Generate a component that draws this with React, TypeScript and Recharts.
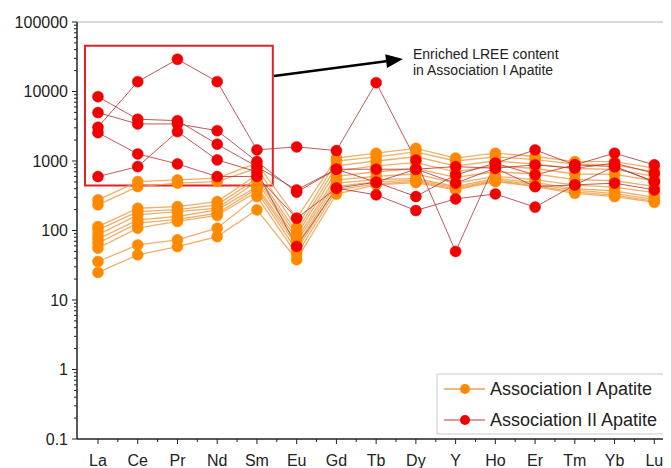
import React from 'react';
import { LineChart, Line, XAxis, YAxis, ReferenceLine, ReferenceArea } from 'recharts';

const ELEMENTS = ['La', 'Ce', 'Pr', 'Nd', 'Sm', 'Eu', 'Gd', 'Tb', 'Dy', 'Y', 'Ho', 'Er', 'Tm', 'Yb', 'Lu'];
const Y_MAJOR = [0.1, 1, 10, 100, 1000, 10000, 100000];

// Association I Apatite (orange)
const assocI_1 = [276, 505, 535, 566, 930, 150, 1100, 1295, 1520, 1100, 1295, 1160, 980, 980, 788];
const assocI_2 = [234, 428, 480, 505, 788, 110, 1000, 1150, 1350, 1000, 1150, 1050, 900, 880, 700];
const assocI_3 = [114, 209, 221, 261, 631, 95, 850, 1000, 1150, 850, 1000, 900, 780, 760, 600];
const assocI_4 = [102, 187, 200, 234, 560, 85, 720, 850, 950, 700, 850, 780, 650, 640, 520];
const assocI_5 = [86.5, 168, 187, 210, 505, 75, 600, 700, 780, 580, 700, 650, 540, 520, 430];
const assocI_6 = [75, 142, 159, 198, 428, 68, 535, 600, 650, 480, 600, 540, 450, 420, 350];
const assocI_7 = [65.8, 128, 145, 177, 400, 60, 480, 540, 560, 430, 560, 490, 400, 370, 300];
const assocI_8 = [55.8, 108, 135, 165, 363, 52, 430, 500, 530, 410, 530, 460, 380, 340, 280];
const assocI_9 = [35.8, 62, 73.4, 108, 308, 45, 380, 470, 510, 395, 515, 440, 360, 320, 265];
const assocI_10 = [24.9, 44.7, 58.8, 81.8, 198, 38, 335, 453, 490, 384, 505, 428, 343, 308, 254];

// Association II Apatite (red)
const assocII_1 = [3060, 13860, 29100, 13860, 1445, 1596, 1412, 13400, 1030, 50, 930, 1445, 880, 1295, 880];
const assocII_2 = [8430, 3990, 3810, 1745, 830, 384, 762, 762, 762, 830, 788, 879, 788, 930, 668];
const assocII_3 = [4970, 3415, 3415, 2735, 980, 356, 762, 495, 308, 631, 930, 631, 880, 830, 505];
const assocII_4 = [2560, 1265, 908, 597, 600, 150, 406, 326, 194, 285, 336, 217, 453, 480, 384];
const assocII_5 = [597, 830, 2650, 1037, 700, 59, 406, 495, 762, 480, 788, 428, 453, 830, 505];

const ORANGE = [assocI_1, assocI_2, assocI_3, assocI_4, assocI_5, assocI_6, assocI_7, assocI_8, assocI_9, assocI_10];
const RED = [assocII_1, assocII_2, assocII_3, assocII_4, assocII_5];

const data = ELEMENTS.map((el, i) => {
  const row: any = { idx: i, el };
  ORANGE.forEach((s, k) => { row['o' + k] = s[i]; });
  RED.forEach((s, k) => { row['r' + k] = s[i]; });
  return row;
});

const Y_TICKS: number[] = [];
Y_MAJOR.forEach((m) => {
  Y_TICKS.push(m);
  if (m < 100000) for (let k = 2; k <= 9; k++) Y_TICKS.push(m * k);
});
const X_TICKS: number[] = [];
for (let i = 0; i <= 28; i++) X_TICKS.push(i / 2);

const FONT = 'Liberation Sans, Arial, sans-serif';
const TXT = '#222';

const YTick = (props: any) => {
  const { x, y, payload } = props;
  const v = payload.value;
  const major = Y_MAJOR.some((m) => Math.abs(m - v) / m < 1e-6);
  return (
    <g>
      <line x1={x} x2={x - (major ? 5 : 3)} y1={y} y2={y} stroke={TXT} strokeWidth={1} />
      {major && (
        <text x={x - 9} y={y} dy="0.35em" textAnchor="end" fontSize={16} fill={TXT} fontFamily={FONT}>
          {String(v)}
        </text>
      )}
    </g>
  );
};

const XTick = (props: any) => {
  const { x, y, payload } = props;
  const v = payload.value;
  const major = Math.abs(v - Math.round(v)) < 1e-6;
  return (
    <g>
      <line x1={x} x2={x} y1={y} y2={y + (major ? 5 : 3)} stroke={TXT} strokeWidth={1} />
      {major && (
        <text x={x} y={y + 26.5} textAnchor="middle" fontSize={16} fill={TXT} fontFamily={FONT}>
          {ELEMENTS[Math.round(v)]}
        </text>
      )}
    </g>
  );
};

const ORANGE_LINE = '#EDA150';
const ORANGE_DOT = '#FF8A00';
const RED_LINE = '#B43C3C';
const RED_DOT = '#F00000';

export default function App() {
  return (
    <div style={{ position: 'relative', width: 663, height: 460 }}>
      <LineChart width={663} height={460} data={data} margin={{ top: 14, right: 0, bottom: 0, left: 0 }}>
        <ReferenceLine y={100000} stroke="#b5b5b5" strokeWidth={1} />
        <XAxis
          type="number"
          dataKey="idx"
          domain={[-0.528, 14.42]}
          allowDataOverflow
          ticks={X_TICKS}
          interval={0}
          tick={<XTick />}
          tickLine={false}
          tickSize={0}
          tickMargin={0}
          height={29}
          axisLine={{ stroke: TXT, strokeWidth: 1.5 }}
        />
        <YAxis
          type="number"
          scale="log"
          domain={[0.1, 100000]}
          allowDataOverflow
          ticks={Y_TICKS}
          interval={0}
          tick={<YTick />}
          tickLine={false}
          tickSize={0}
          tickMargin={0}
          width={69}
          axisLine={{ stroke: TXT, strokeWidth: 1.5 }}
        />
        {ORANGE.map((_, k) => (
          <Line
            key={'o' + k}
            dataKey={'o' + k}
            stroke={ORANGE_LINE}
            strokeWidth={1.3}
            strokeOpacity={0.85}
            dot={{ r: 5.5, fill: ORANGE_DOT, stroke: ORANGE_DOT, strokeWidth: 0.5, fillOpacity: 1, strokeOpacity: 1 }}
            activeDot={false}
            isAnimationActive={false}
          />
        ))}
        {RED.map((_, k) => (
          <Line
            key={'r' + k}
            dataKey={'r' + k}
            stroke={RED_LINE}
            strokeWidth={1}
            strokeOpacity={0.85}
            dot={{ r: 5.5, fill: RED_DOT, stroke: RED_DOT, strokeWidth: 0.5, fillOpacity: 1, strokeOpacity: 1 }}
            activeDot={false}
            isAnimationActive={false}
          />
        ))}
        <ReferenceArea
          x1={-0.327}
          x2={4.4}
          y1={443}
          y2={45600}
          stroke="#E02424"
          strokeWidth={2}
          fill="none"
          fillOpacity={0}
          ifOverflow="visible"
        />
      </LineChart>
      <svg
        width={663}
        height={460}
        style={{ position: 'absolute', left: 0, top: 0, pointerEvents: 'none' }}
      >
        <line x1={266} y1={68} x2={378.1} y2={53.2} stroke="#000" strokeWidth={2.5} />
        <polygon points="395,51 379,60.1 377.2,46.3" fill="#000" />
        <text x={405} y={51.3} fontSize={14} fill={TXT} fontFamily={FONT}>Enriched LREE content</text>
        <text x={405} y={67} fontSize={14} fill={TXT} fontFamily={FONT}>in Association I Apatite</text>
        <rect x={429} y={366} width={233} height={60} fill="#fff" stroke="#c8c8c8" strokeWidth={1} />
        <line x1={436} x2={477} y1={381} y2={381} stroke={ORANGE_LINE} strokeWidth={1.3} />
        <circle cx={457} cy={381} r={5} fill={ORANGE_DOT} />
        <text x={482} y={381} dy="0.35em" fontSize={18} fill={TXT} fontFamily={FONT}>Association I Apatite</text>
        <line x1={436} x2={477} y1={412} y2={412} stroke={RED_LINE} strokeWidth={1} />
        <circle cx={457} cy={412} r={5} fill={RED_DOT} />
        <text x={482} y={412} dy="0.35em" fontSize={18} fill={TXT} fontFamily={FONT}>Association II Apatite</text>
      </svg>
    </div>
  );
}
